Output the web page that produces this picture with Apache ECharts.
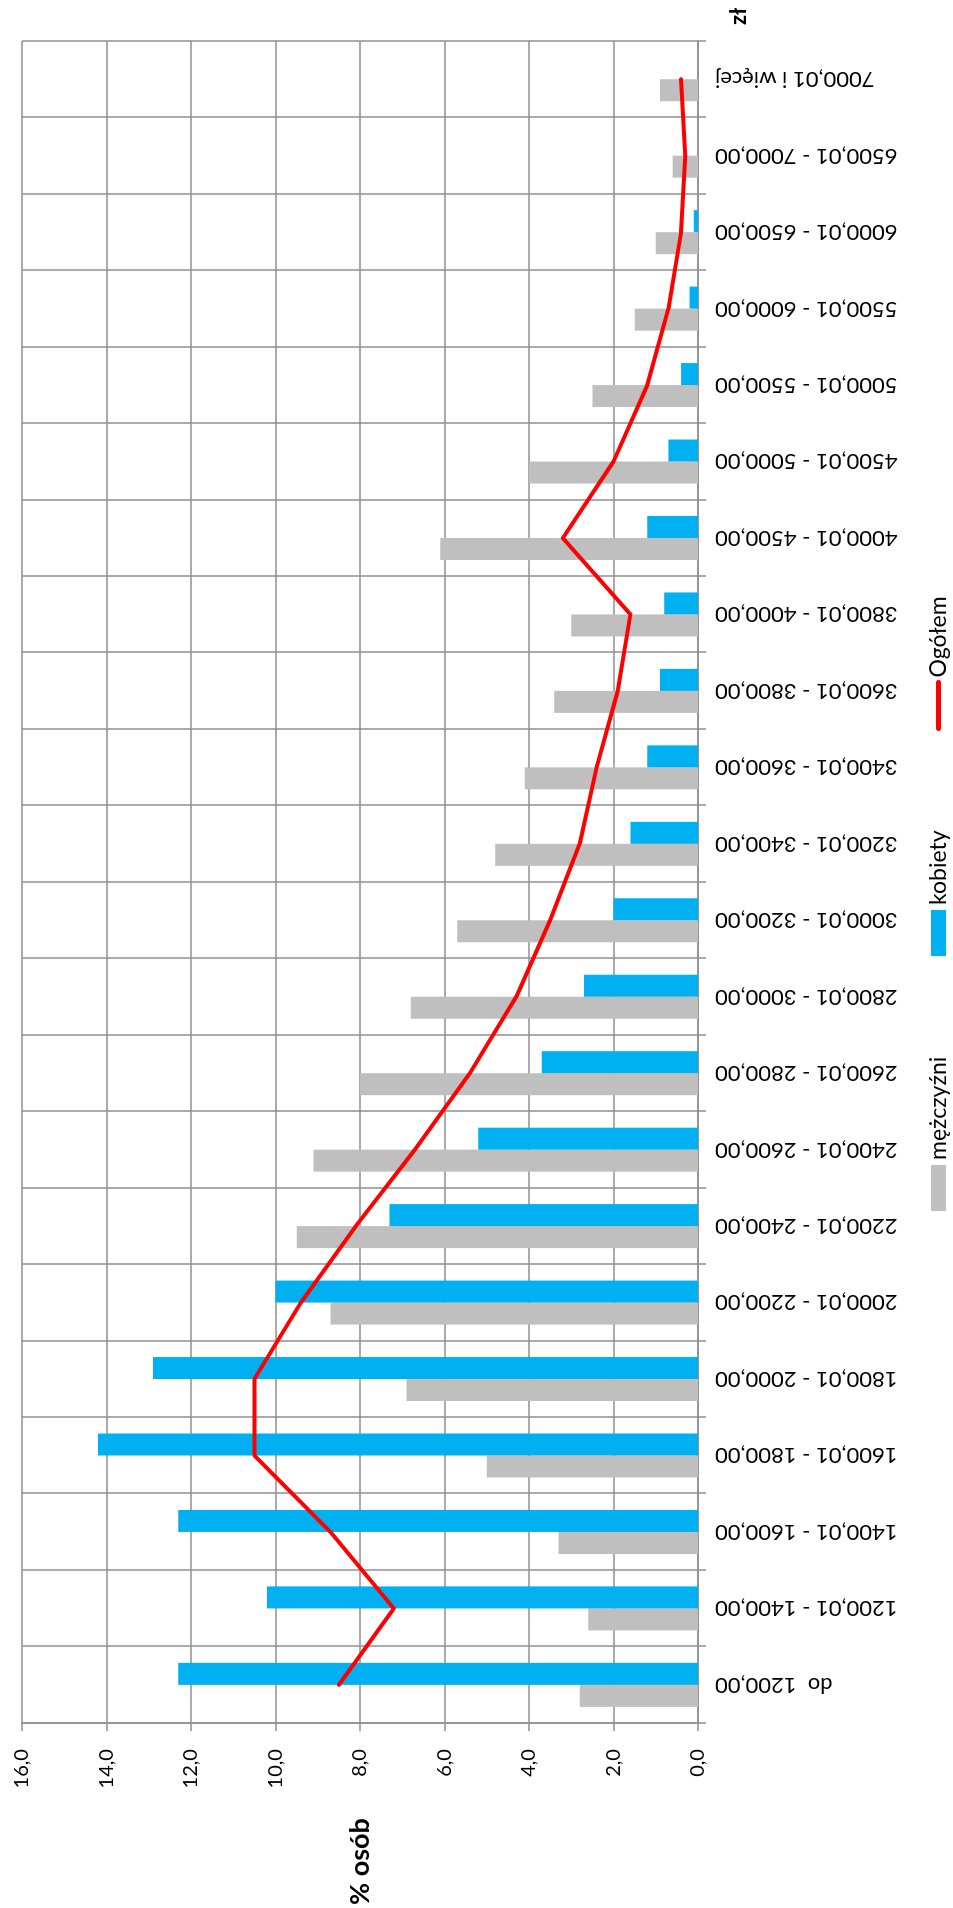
<!DOCTYPE html>
<html><head><meta charset="utf-8">
<script src="https://cdn.jsdelivr.net/npm/echarts@6/dist/echarts.min.js"></script>
<style>
html,body{margin:0;padding:0;overflow:hidden;background:#fff;width:953px;height:1908px;}
#chart{position:absolute;left:0;top:0;width:1908px;height:953px;transform-origin:0 0;transform:translate(0,1908px) rotate(-90deg);}
</style></head><body><div id="chart"></div>
<script>
const categories = ['do  1200,00','1200,01 - 1400,00','1400,01 - 1600,00','1600,01 - 1800,00','1800,01 - 2000,00','2000,01 - 2200,00','2200,01 - 2400,00','2400,01 - 2600,00','2600,01 - 2800,00','2800,01 - 3000,00','3000,01 - 3200,00','3200,01 - 3400,00','3400,01 - 3600,00','3600,01 - 3800,00','3800,01 - 4000,00','4000,01 - 4500,00','4500,01 - 5000,00','5000,01 - 5500,00','5500,01 - 6000,00','6000,01 - 6500,00','6500,01 - 7000,00','7000,01 i więcej'];
const men   = [2.8, 2.6, 3.3, 5.0, 6.9, 8.7, 9.5, 9.1, 8.0, 6.8, 5.7, 4.8, 4.1, 3.4, 3.0, 6.1, 4.0, 2.5, 1.5, 1.0, 0.6, 0.9];
const women = [12.3, 10.2, 12.3, 14.2, 12.9, 10.0, 7.3, 5.2, 3.7, 2.7, 2.0, 1.6, 1.2, 0.9, 0.8, 1.2, 0.7, 0.4, 0.2, 0.1, 0, 0];
const total = [8.5, 7.2, 8.7, 10.5, 10.5, 9.4, 8.1, 6.7, 5.4, 4.3, 3.5, 2.8, 2.4, 1.9, 1.6, 3.2, 2.0, 1.2, 0.7, 0.4, 0.3, 0.4];
const valueTicks = ['0,0','2,0','4,0','6,0','8,0','10,0','12,0','14,0','16,0'];
const seriesNames = ['mężczyźni','kobiety','Ogółem'];

const GRID = '#8f8f8f';
const FONT = 'Lato';
const legendText = {fontFamily:FONT,fontSize:23,color:'#000'};
function legendAt(left, item){
  return {left:left, top:927, padding:0, itemWidth:46, itemHeight:15, textStyle:legendText, data:[item]};
}
const chart = echarts.init(document.getElementById('chart'), null, {renderer:'canvas'});
chart.setOption({
  animation:false,
  backgroundColor:'#fff',
  textStyle:{fontFamily:FONT,color:'#000'},
  grid:{left:181,right:41,top:22,bottom:255,containLabel:false},
  legend:[
    legendAt(697,{name:seriesNames[0],icon:'rect'}),
    legendAt(952,{name:seriesNames[1],icon:'rect'}),
    legendAt(1177,{name:seriesNames[2],itemStyle:{color:'rgba(0,0,0,0)',borderWidth:0,opacity:0},lineStyle:{color:'#ff0000',width:5,opacity:1,cap:'round'}})
  ],
  xAxis:{
    type:'category', data:categories, boundaryGap:true,
    name:'zł', nameLocation:'end', nameGap:16,
    nameTextStyle:{fontFamily:FONT,fontSize:22,fontWeight:'bold',color:'#000',verticalAlign:'top',align:'left',padding:[30,0,0,0]},
    axisLine:{show:true,lineStyle:{color:GRID,width:1.5}},
    axisTick:{show:true,length:8,lineStyle:{color:GRID,width:1.5}},
    splitLine:{show:true,lineStyle:{color:GRID,width:1.5}},
    axisLabel:{interval:0,rotate:90,margin:17,fontFamily:FONT,fontSize:22,color:'#000'}
  },
  yAxis:{
    type:'value', min:0, max:16, interval:2,
    name:'% osób', nameLocation:'middle', nameGap:95, nameRotate:0,
    nameTextStyle:{fontFamily:FONT,fontSize:27,fontWeight:'bold',color:'#000',align:'right',verticalAlign:'middle'},
    axisLine:{show:true,lineStyle:{color:GRID,width:1.5}},
    axisTick:{show:true,length:8,lineStyle:{color:GRID,width:1.5}},
    splitLine:{show:true,lineStyle:{color:GRID,width:1.5}},
    axisLabel:{margin:26,fontFamily:FONT,fontSize:20,color:'#000',formatter:function(v){return valueTicks[Math.round(v/2)];}}
  },
  series:[
    {name:seriesNames[0],type:'bar',data:men,barWidth:22,barGap:'0%',itemStyle:{color:'#bfbfbf'}},
    {name:seriesNames[1],type:'bar',data:women,barWidth:22,barGap:'0%',itemStyle:{color:'#00b0f0'}},
    {name:seriesNames[2],type:'line',data:total,symbol:'none',smooth:false,lineStyle:{color:'#ff0000',width:4,cap:'round',join:'round'},itemStyle:{color:'#ff0000'},z:5}
  ]
});
</script></body></html>
